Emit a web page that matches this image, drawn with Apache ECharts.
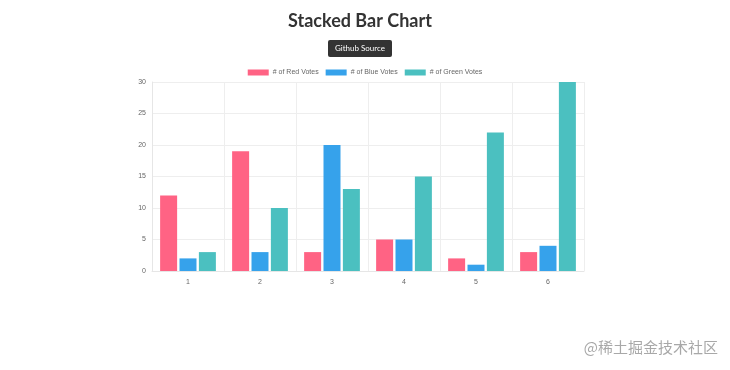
<!DOCTYPE html>
<html><head><meta charset="utf-8">
<script src="https://cdn.jsdelivr.net/npm/echarts@6/dist/echarts.min.js"></script>
<style>html,body{margin:0;padding:0;background:#fff}#c{width:730px;height:370px}</style>
</head><body><div id="c"></div>
<script>
const categories = ['1','2','3','4','5','6'];
const redVotes = [12, 19, 3, 5, 2, 3];
const blueVotes = [2, 3, 20, 5, 1, 4];
const greenVotes = [3, 10, 13, 15, 22, 30];
const seriesNames = ['# of Red Votes', '# of Blue Votes', '# of Green Votes'];
const colors = ['#ff6384', '#36a2eb', '#4bc0c0'];

const chart = echarts.init(document.getElementById('c'), null, {renderer: 'canvas'});
const axisFont = {fontFamily: 'Liberation Sans', fontSize: 7, color: '#666'};
function bar(name, data, color) {
  return {name, type: 'bar', data, barWidth: 17, barGap: '14%',
    itemStyle: {color: color}, emphasis: {disabled: true}};
}
chart.setOption({
  animation: false,
  title: {text: 'Stacked Bar Chart', left: 283, top: 7,
    textStyle: {fontFamily: 'Lato', fontWeight: 'bold', fontSize: 18, color: '#333'}},
  graphic: [
    {type: 'rect', shape: {x: 328, y: 40, width: 64, height: 17, r: 2},
     style: {fill: '#333'}},
    {type: 'text', x: 360, y: 48.5, style: {text: 'Github Source', fill: '#fff',
      font: '8px "Lato"', textAlign: 'center', textVerticalAlign: 'middle'}},
    {type: 'text', right: 12, top: 340, style: {text: '@稀土掘金技术社区', fill: '#a8a8a8',
      font: '15px "Noto Sans CJK SC"'}}
  ],
  legend: {top: 64, left: 'center', itemWidth: 21, itemHeight: 6, itemGap: 7,
    icon: 'rect', textStyle: Object.assign({}, axisFont, {fontSize: 7, padding: [0,0,0,-1]}),
    data: seriesNames},
  grid: {left: 152, right: 146, top: 82, bottom: 99},
  xAxis: {type: 'category', data: categories,
    axisLine: {lineStyle: {color: '#e6e6e6'}},
    axisTick: {show: false},
    axisLabel: Object.assign({margin: 8}, axisFont),
    splitLine: {show: true, lineStyle: {color: '#eeeeee'}}},
  yAxis: {type: 'value', min: 0, max: 30, interval: 5,
    axisLine: {show: true, lineStyle: {color: '#e6e6e6'}},
    axisTick: {show: false},
    axisLabel: Object.assign({margin: 6}, axisFont),
    splitLine: {lineStyle: {color: '#eeeeee'}}},
  series: [
    bar(seriesNames[0], redVotes, colors[0]),
    bar(seriesNames[1], blueVotes, colors[1]),
    bar(seriesNames[2], greenVotes, colors[2])
  ]
});
</script></body></html>
